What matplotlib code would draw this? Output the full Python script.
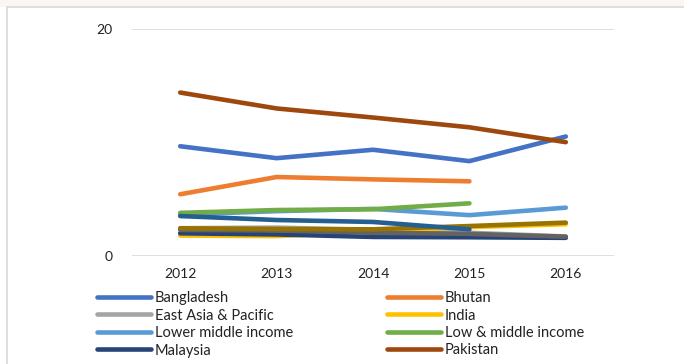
import matplotlib
matplotlib.use("Agg")
import matplotlib.pyplot as plt
from matplotlib.patches import Rectangle

plt.rcParams['font.family'] = ['Lato', 'DejaVu Sans']

years = ["2012", "2013", "2014", "2015", "2016"]

bangladesh = [9.67, 8.62, 9.36, 8.36, 10.53]
bhutan = [5.44, 6.96, 6.75, 6.58, None]
east_asia = [2.45, 2.5, 2.3, 2.05, 1.72]
india = [1.8, 1.75, 2.15, 2.55, 2.8]
lower_middle = [3.65, 3.95, 4.15, 3.6, 4.26]
low_middle = [3.8, 4.05, 4.12, 4.64, None]
malaysia = [2.0, 1.9, 1.68, 1.65, 1.6]
pakistan = [14.4, 13.0, 12.2, 11.34, 10.03]
extra_gray = [2.3, 2.25, 2.05, 1.95, 1.7]
extra_olive = [2.44, 2.38, 2.35, 2.64, 2.94]
extra_teal = [3.52, 3.17, 3.0, 2.35, None]

series = [
    ("Bangladesh", bangladesh, "#4472C4"),
    ("Bhutan", bhutan, "#ED7D31"),
    ("East Asia & Pacific", east_asia, "#A5A5A5"),
    ("India", india, "#FFC000"),
    ("Lower middle income", lower_middle, "#5B9BD5"),
    ("Low & middle income", low_middle, "#70AD47"),
    ("Malaysia", malaysia, "#264478"),
    ("Pakistan", pakistan, "#9E480E"),
    (None, extra_gray, "#636363"),
    (None, extra_olive, "#997300"),
    (None, extra_teal, "#255E91"),
]

W, H = 684, 364
fig = plt.figure(figsize=(W / 100, H / 100), dpi=100)
fig.patch.set_facecolor("white")

# faint strip above the chart frame and the frame itself
fig.patches.append(Rectangle((0, 1 - 7 / H), 1, 7 / H, transform=fig.transFigure,
                             facecolor="#FBF6F3", edgecolor="none", zorder=-2))
fig.patches.append(Rectangle((7 / W, -0.05), 1.1, 1 - 7 / H + 0.05, transform=fig.transFigure,
                             facecolor="white", edgecolor="#D9D9D9", linewidth=1.2, zorder=-1))

left, right, top, bottom = 132, 614, 29, 256
ax = fig.add_axes([left / W, (H - bottom) / H, (right - left) / W, (bottom - top) / H])
ax.set_facecolor("none")
ax.set_zorder(1)

x = list(range(len(years)))
handles = {}
for name, vals, color in series:
    xs = [xi for xi, v in zip(x, vals) if v is not None]
    ys = [v for v in vals if v is not None]
    ln, = ax.plot(xs, ys, color=color, linewidth=3.3, solid_capstyle="round",
                  solid_joinstyle="round", zorder=3)
    if name:
        handles[name] = ln

ax.set_xlim(-0.5, len(years) - 0.5)
ax.set_ylim(0, 20)
ax.set_yticks([0, 20])
ax.set_xticks(x)
ax.set_xticklabels(years)
ax.tick_params(axis="both", length=0, labelsize=10, colors="#222222")
ax.tick_params(axis="y", pad=14)
ax.tick_params(axis="x", pad=9)
for s in ax.spines.values():
    s.set_visible(False)
ax.axhline(20, color="#D9D9D9", linewidth=1.2, zorder=1)
ax.axhline(0, color="#D9D9D9", linewidth=1.2, zorder=1)

order = ["Bangladesh", "East Asia & Pacific", "Lower middle income", "Malaysia",
         "Bhutan", "India", "Low & middle income", "Pakistan"]
leg = fig.legend([handles[n] for n in order], order, ncol=2,
                 loc="upper left", bbox_to_anchor=(97 / W, 1 - 291 / H),
                 frameon=False, fontsize=10.5, handlelength=3.7, handletextpad=0.27,
                 columnspacing=6.45, labelspacing=0.24, borderaxespad=0, borderpad=0)
leg.set_zorder(2)
for t in leg.get_texts():
    t.set_color("#222222")

fig.savefig("out.png", dpi=100, facecolor="white")
